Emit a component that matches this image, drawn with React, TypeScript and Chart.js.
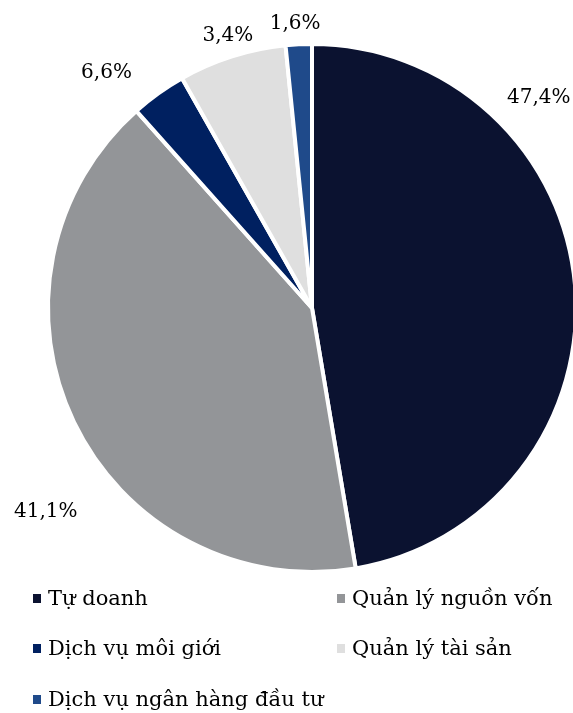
import React, { useEffect, useRef } from "react";
import { Chart, registerables } from "chart.js";

Chart.register(...registerables);

const categories = ["Tự doanh", "Quản lý nguồn vốn", "Dịch vụ môi giới", "Quản lý tài sản", "Dịch vụ ngân hàng đầu tư"];
const shares = [47.4, 41.1, 3.4, 6.6, 1.6];
const sliceLabels = ["47,4%", "41,1%", "6,6%", "3,4%", "1,6%"];
const colors = ["#0b1230", "#939598", "#002060", "#dfdfdf", "#1f4a8a"];

// label placement: fraction along the slice angle, and distance as multiple of radius
const labelFrac = [0.277, 0.42, 0.05, 0.52, 0.41];
const labelDist = [1.17, 1.27, 1.184, 1.08, 1.08];

const FONT = "'DejaVu Serif', serif";

const labelPlugin = {
  id: "sliceLabels",
  afterDatasetsDraw(chart: any) {
    const ctx = chart.ctx;
    const meta = chart.getDatasetMeta(0);
    ctx.save();
    ctx.font = `20px ${FONT}`;
    ctx.fillStyle = "#000";
    ctx.textAlign = "center";
    ctx.textBaseline = "middle";
    meta.data.forEach((arc: any, i: number) => {
      const { x, y, startAngle, endAngle, outerRadius } = arc.getProps(["x", "y", "startAngle", "endAngle", "outerRadius"], true);
      const a = startAngle + (endAngle - startAngle) * labelFrac[i];
      const r = outerRadius * labelDist[i];
      ctx.fillText(sliceLabels[i], x + Math.cos(a) * r, y + Math.sin(a) * r);
    });
    ctx.restore();
  },
};

const legendPlugin = {
  id: "gridLegend",
  afterDraw(chart: any) {
    const ctx = chart.ctx;
    const colX = [33, 337];
    const rowY = [600, 650, 701];
    ctx.save();
    ctx.font = `21px ${FONT}`;
    ctx.textBaseline = "middle";
    ctx.textAlign = "left";
    categories.forEach((c, i) => {
      const cx = colX[i % 2];
      const cy = rowY[Math.floor(i / 2)];
      ctx.fillStyle = colors[i];
      ctx.fillRect(cx, cy - 6, 8, 9);
      ctx.fillStyle = "#000";
      ctx.fillText(c, cx + 15, cy);
    });
    ctx.restore();
  },
};

export default function App() {
  const ref = useRef<HTMLCanvasElement>(null);
  useEffect(() => {
    document.body.style.margin = "0";
    const chart = new Chart(ref.current!, {
      type: "pie",
      data: {
        labels: categories,
        datasets: [
          {
            data: shares,
            backgroundColor: colors,
            borderColor: "#ffffff",
            borderWidth: 4,
            radius: 264,
            clip: false as any,
          },
        ],
      },
      options: {
        animation: false,
        responsive: false,
        events: [],
        layout: { padding: { left: 51, right: 0, top: 0, bottom: 97 } },
        plugins: {
          legend: { display: false },
          tooltip: { enabled: false },
        },
      },
      plugins: [labelPlugin, legendPlugin],
    });
    return () => chart.destroy();
  }, []);
  return (
    <div style={{ position: "absolute", left: 0, top: 0, width: 573, height: 713, background: "#fff" }}>
      <canvas ref={ref} width={573} height={713} style={{ width: 573, height: 713, display: "block" }} />
    </div>
  );
}
